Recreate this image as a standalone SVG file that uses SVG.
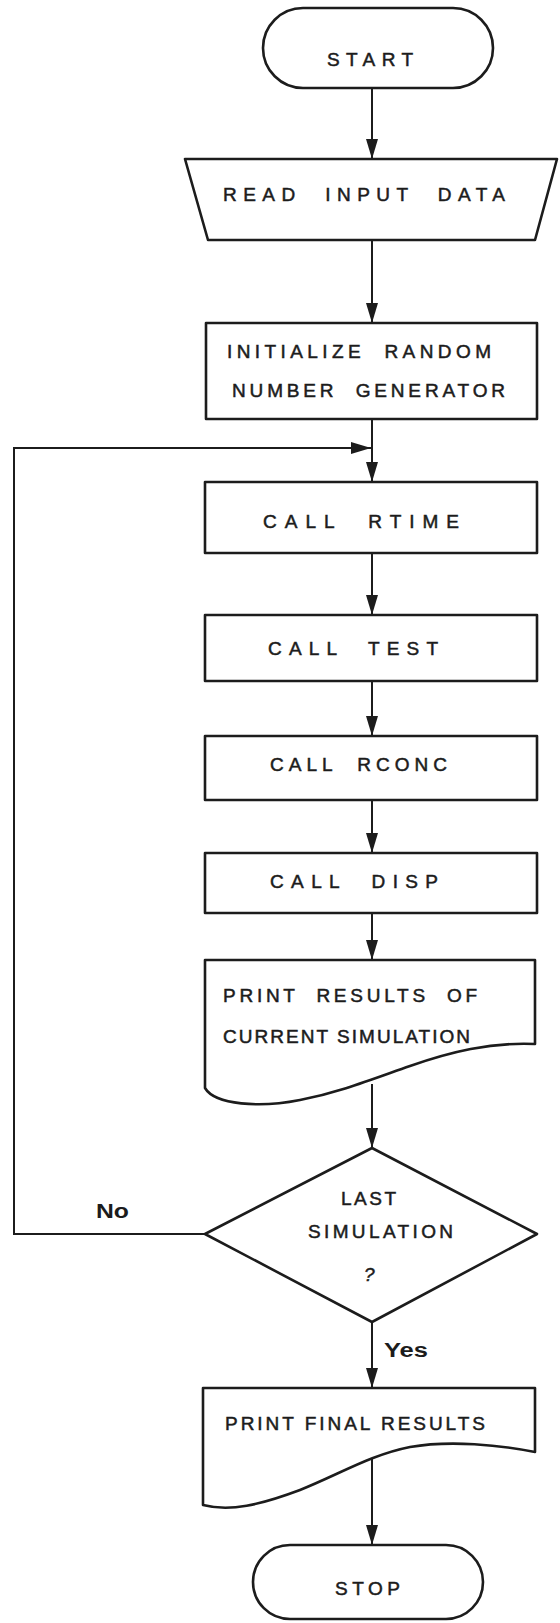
<svg xmlns="http://www.w3.org/2000/svg" width="560" height="1623" viewBox="0 0 560 1623">
  <style>
    .shape { fill: none; stroke: #1c1c1c; stroke-width: 2.6; stroke-linejoin: round; }
    .wire { fill: none; stroke: #1c1c1c; stroke-width: 2; }
    .lbl { font-family: "Liberation Sans", Arial, sans-serif; font-size: 19px; fill: #1c1c1c; stroke: #1c1c1c; stroke-width: 0.5; }
    .tag { font-family: "Liberation Sans", Arial, sans-serif; font-size: 20px; font-weight: bold; fill: #1c1c1c; }
  </style>
  <defs>
    <marker id="arrow" viewBox="0 0 20 12" refX="20" refY="6" markerWidth="20" markerHeight="12" markerUnits="userSpaceOnUse" orient="auto">
      <path d="M0,0 L20,6 L0,12 Z" fill="#1c1c1c"/>
    </marker>
  </defs>
  <rect width="560" height="1623" fill="#ffffff"/>

  <!-- connectors -->
  <g id="connectors">
    <line class="wire" x1="372" y1="88" x2="372" y2="159" marker-end="url(#arrow)"/>
    <line class="wire" x1="372" y1="240" x2="372" y2="323" marker-end="url(#arrow)"/>
    <line class="wire" x1="372" y1="419" x2="372" y2="482" marker-end="url(#arrow)"/>
    <polyline class="wire" points="205,1234 14,1234 14,448 371,448" marker-end="url(#arrow)"/>
    <line class="wire" x1="372" y1="553" x2="372" y2="615" marker-end="url(#arrow)"/>
    <line class="wire" x1="372" y1="681" x2="372" y2="736" marker-end="url(#arrow)"/>
    <line class="wire" x1="372" y1="800" x2="372" y2="853" marker-end="url(#arrow)"/>
    <line class="wire" x1="372" y1="913" x2="372" y2="960" marker-end="url(#arrow)"/>
    <line class="wire" x1="372" y1="1084" x2="372" y2="1148" marker-end="url(#arrow)"/>
    <line class="wire" x1="372" y1="1322" x2="372" y2="1388" marker-end="url(#arrow)"/>
    <line class="wire" x1="372" y1="1458" x2="372" y2="1545" marker-end="url(#arrow)"/>
    <text class="tag" x="96" y="1218" textLength="33" lengthAdjust="spacingAndGlyphs">No</text>
    <text class="tag" x="384" y="1357" textLength="44" lengthAdjust="spacingAndGlyphs">Yes</text>
  </g>

  <g id="start">
    <rect class="shape" x="263" y="8" width="230" height="80" rx="40" ry="40"/>
    <text class="lbl" x="327" y="66" textLength="86" lengthAdjust="spacing">START</text>
  </g>

  <g id="read-input">
    <polygon class="shape" points="185,159 557,159 535,240 208,240"/>
    <text class="lbl" x="223" y="201" textLength="282" lengthAdjust="spacing" xml:space="preserve">READ  INPUT  DATA</text>
  </g>

  <g id="init-rng">
    <rect class="shape" x="206" y="323" width="331" height="96"/>
    <text class="lbl" x="227" y="358" textLength="264" lengthAdjust="spacing" xml:space="preserve">INITIALIZE  RANDOM</text>
    <text class="lbl" x="232" y="397" textLength="273" lengthAdjust="spacing" xml:space="preserve">NUMBER  GENERATOR</text>
  </g>

  <g id="call-rtime">
    <rect class="shape" x="205" y="482" width="332" height="71"/>
    <text class="lbl" x="263" y="528" textLength="196" lengthAdjust="spacing" xml:space="preserve">CALL  RTIME</text>
  </g>

  <g id="call-test">
    <rect class="shape" x="205" y="615" width="332" height="66"/>
    <text class="lbl" x="268" y="655" textLength="170" lengthAdjust="spacing" xml:space="preserve">CALL  TEST</text>
  </g>

  <g id="call-rconc">
    <rect class="shape" x="205" y="736" width="332" height="64"/>
    <text class="lbl" x="270" y="771" textLength="177" lengthAdjust="spacing" xml:space="preserve">CALL  RCONC</text>
  </g>

  <g id="call-disp">
    <rect class="shape" x="205" y="853" width="332" height="60"/>
    <text class="lbl" x="270" y="888" textLength="168" lengthAdjust="spacing" xml:space="preserve">CALL  DISP</text>
  </g>

  <g id="print-current">
    <path class="shape" d="M205,1088 V960 H535 V1044 C490,1042 450,1052 410,1066 C370,1080 340,1092 300,1100 C260,1108 215,1105 205,1088 Z"/>
    <text class="lbl" x="223" y="1002" textLength="254" lengthAdjust="spacing" xml:space="preserve">PRINT  RESULTS  OF</text>
    <text class="lbl" x="223" y="1043" textLength="247" lengthAdjust="spacing">CURRENT SIMULATION</text>
  </g>

  <g id="last-simulation">
    <polygon class="shape" points="372,1148 537,1234 372,1322 205,1234"/>
    <text class="lbl" x="341" y="1205" textLength="55" lengthAdjust="spacing">LAST</text>
    <text class="lbl" x="308" y="1238" textLength="145" lengthAdjust="spacing">SIMULATION</text>
    <text class="lbl" x="364" y="1281" font-size="21" font-style="italic" stroke-width="0.3">?</text>
  </g>

  <g id="print-final">
    <path class="shape" d="M203,1505 V1388 H535 V1452 C500,1445 450,1440 410,1447 C370,1455 340,1474 300,1490 C260,1505 230,1512 203,1505 Z"/>
    <text class="lbl" x="225" y="1430" textLength="260" lengthAdjust="spacing">PRINT FINAL RESULTS</text>
  </g>

  <g id="stop">
    <rect class="shape" x="253" y="1545" width="230" height="74" rx="37" ry="37"/>
    <text class="lbl" x="335" y="1595" textLength="65" lengthAdjust="spacing">STOP</text>
  </g>
</svg>
